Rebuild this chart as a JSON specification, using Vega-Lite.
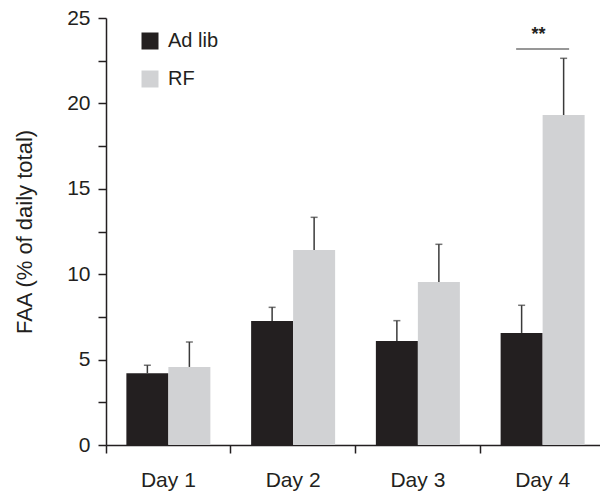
{
  "$schema": "https://vega.github.io/schema/vega-lite/v6.json",
  "width": 494,
  "height": 427,
  "autosize": "none",
  "padding": {"left": 106, "top": 18, "right": 0, "bottom": 47},
  "config": {
    "view": {"stroke": null},
    "font": "Liberation Sans",
    "axis": {"domainColor": "#231f20", "tickColor": "#231f20", "labelColor": "#231f20", "titleColor": "#231f20", "domainWidth": 1.5, "tickWidth": 1.5, "grid": false}
  },
  "data": {
    "values": [
      {"day": "Day 1", "group": "Ad lib", "value": 4.2, "upper": 4.67},
      {"day": "Day 1", "group": "RF", "value": 4.57, "upper": 6.03},
      {"day": "Day 2", "group": "Ad lib", "value": 7.26, "upper": 8.06},
      {"day": "Day 2", "group": "RF", "value": 11.42, "upper": 13.33},
      {"day": "Day 3", "group": "Ad lib", "value": 6.09, "upper": 7.28},
      {"day": "Day 3", "group": "RF", "value": 9.54, "upper": 11.75},
      {"day": "Day 4", "group": "Ad lib", "value": 6.56, "upper": 8.18},
      {"day": "Day 4", "group": "RF", "value": 19.32, "upper": 22.64}
    ]
  },
  "encoding": {
    "x": {
      "field": "day", "type": "nominal", "title": null,
      "scale": {"paddingInner": 0, "paddingOuter": 0, "range": [0, 499]},
      "axis": {"bandPosition": 0, "labelAngle": 0, "labelFontSize": 21, "labelDx": 62, "tickSize": 8, "labelPadding": 16, "labelAlign": "center"}
    },
    "xOffset": {"field": "group", "type": "nominal", "scale": {"paddingInner": 0, "paddingOuter": 0.485}}
  },
  "layer": [
    {
      "mark": {"type": "bar"},
      "encoding": {
        "y": {
          "field": "value", "type": "quantitative",
          "title": "FAA (% of daily total)",
          "scale": {"domain": [0, 25], "nice": false},
          "axis": {"values": [0, 2.5, 5, 7.5, 10, 12.5, 15, 17.5, 20, 22.5, 25], "labelExpr": "datum.value % 5 == 0 ? datum.label : ''", "labelFontSize": 21, "tickSize": 8, "labelPadding": 8, "titleFontSize": 22, "titleFontWeight": "normal", "titleX": -82, "titleBaseline": "middle"}
        },
        "color": {
          "field": "group", "type": "nominal",
          "scale": {"domain": ["Ad lib", "RF"], "range": ["#231f20", "#d1d2d4"]},
          "legend": {"title": null, "orient": "none", "legendX": 34, "legendY": 13, "symbolType": "square", "symbolSize": 289, "symbolStrokeWidth": 0, "labelFontSize": 20, "labelColor": "#231f20", "rowPadding": 18, "labelOffset": 8}
        }
      }
    },
    {
      "mark": {"type": "rule", "color": "#3a3a3a", "strokeWidth": 1.5},
      "encoding": {
        "y": {"field": "value", "type": "quantitative"},
        "y2": {"field": "upper"}
      }
    },
    {
      "mark": {"type": "tick", "color": "#3a3a3a", "thickness": 1.5, "size": 7},
      "encoding": {
        "y": {"field": "upper", "type": "quantitative"}
      }
    },
    {
      "data": {"values": [{"day": "Day 4", "y": 23.19, "label": "**", "ty": 24.0}]},
      "layer": [
        {
          "mark": {"type": "tick", "color": "#3a3a3a", "thickness": 1.5, "size": 53},
          "encoding": {
            "x": {"field": "day", "type": "nominal", "bandPosition": 0.467},
            "xOffset": null,
            "y": {"field": "y", "type": "quantitative"}
          }
        },
        {
          "mark": {"type": "text", "fontSize": 18, "fontWeight": "bold", "color": "#231f20", "baseline": "middle"},
          "encoding": {
            "x": {"field": "day", "type": "nominal", "bandPosition": 0.467},
            "xOffset": null,
            "y": {"field": "ty", "type": "quantitative"},
            "text": {"field": "label"}
          }
        }
      ]
    }
  ]
}
